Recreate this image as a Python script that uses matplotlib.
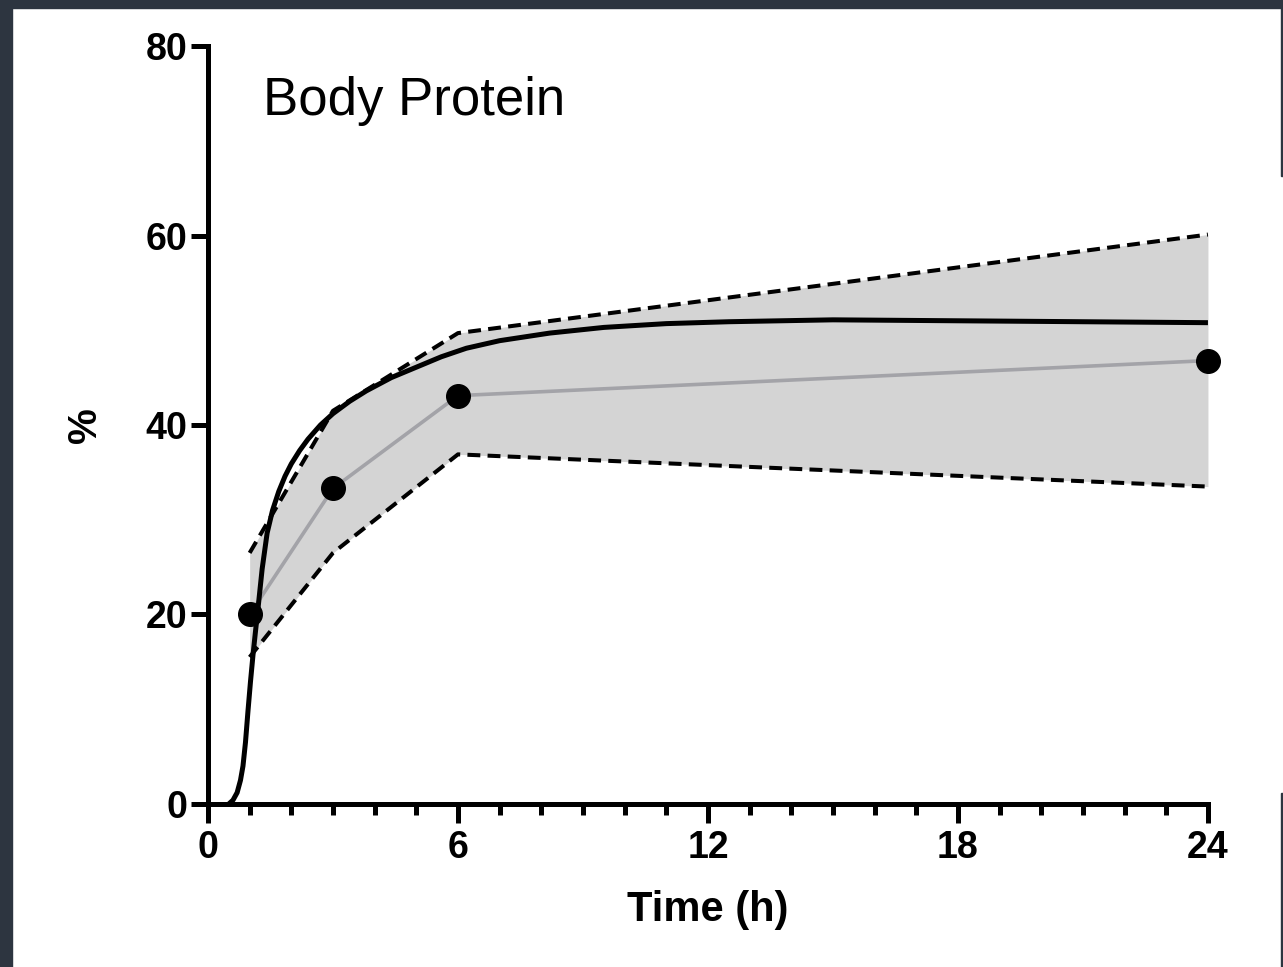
import matplotlib
matplotlib.use("Agg")
from matplotlib import pyplot as plt
from matplotlib.patches import Rectangle

# observed means and band
obs_time = [1, 3, 6, 24]
obs_mean = [20.0, 33.3, 43.1, 46.8]
band_upper = [26.5, 41.5, 49.7, 60.1]
band_lower = [15.5, 26.5, 36.9, 33.5]

# model curve
fit_time = [0.5, 0.6, 0.7, 0.78, 0.84, 0.9, 0.96, 1.02, 1.08, 1.14, 1.2,
            1.3, 1.42, 1.55, 1.7, 1.85, 2.0, 2.2, 2.4, 2.7, 3.0, 3.4, 3.8,
            4.4, 5.0, 5.6, 6.2, 7.0, 8.2, 9.5, 11.0, 12.5, 15.0, 18.0,
            21.0, 24.0]
fit_value = [0.0, 0.4, 1.2, 2.5, 4.0, 6.5, 9.8, 12.9, 15.7, 18.2, 20.6,
             24.8, 28.6, 31.0, 33.0, 34.6, 35.9, 37.3, 38.5, 40.0, 41.2,
             42.5, 43.6, 45.0, 46.1, 47.2, 48.1, 48.9, 49.7, 50.3, 50.7,
             50.9, 51.1, 51.0, 50.9, 50.8]

x_ticks = [0, 6, 12, 18, 24]
y_ticks = [0, 20, 40, 60, 80]

plt.rcParams["font.family"] = ["Liberation Sans", "DejaVu Sans"]

fig = plt.figure(figsize=(12.83, 9.67), dpi=100)
ax = fig.add_axes([0.1621, 0.1686, 0.7794, 0.7838])

ax.fill_between(obs_time, band_lower, band_upper, color="#d4d4d4", lw=0, zorder=1)
ax.plot(obs_time, band_upper, color="black", lw=2.9, ls=(0, (3.2, 1.8)), zorder=2)
ax.plot(obs_time, band_lower, color="black", lw=2.9, ls=(0, (3.2, 1.8)), zorder=2)
ax.plot(obs_time, obs_mean, color="#a3a3a8", lw=2.6, zorder=3)
ax.plot(fit_time, fit_value, color="black", lw=3.6, zorder=4, clip_on=False,
        solid_capstyle="butt", solid_joinstyle="round")
ax.plot(obs_time, obs_mean, "o", color="black", ms=17, zorder=5, clip_on=False)

ax.set_xlim(0, 24)
ax.set_ylim(0, 80)
ax.set_xticks(x_ticks)
ax.set_yticks(y_ticks)
ax.set_xticks(range(0, 25), minor=True)

for side in ["top", "right"]:
    ax.spines[side].set_visible(False)
for side in ["left", "bottom"]:
    ax.spines[side].set_linewidth(3.6)
    ax.spines[side].set_capstyle("projecting")

ax.tick_params(axis="x", which="major", length=14, width=3.6, pad=5)
ax.tick_params(axis="x", which="minor", length=8, width=3.6)
ax.tick_params(axis="y", which="major", length=12, width=3.6, pad=3)
for lab in ax.get_xticklabels() + ax.get_yticklabels():
    lab.set_fontsize(27)
    lab.set_fontweight("bold")

ax.set_xlabel("Time (h)", fontsize=30, fontweight="bold", labelpad=17)
ax.set_ylabel("%", fontsize=29, fontweight="bold", labelpad=30)
ax.text(0.055, 0.909, "Body Protein", transform=ax.transAxes, fontsize=38,
        va="baseline", ha="left")

# dark frame around the screenshot
dark = "#2d3540"
fig.patches.append(Rectangle((0, 0), 12 / 1283, 1, transform=fig.transFigure,
                             color=dark, zorder=10))
fig.patches.append(Rectangle((0, 1 - 8 / 967), 1, 8 / 967, transform=fig.transFigure,
                             color=dark, zorder=10))
fig.patches.append(Rectangle((1 - 2 / 1283, 1 - 176 / 967), 2 / 1283, 168 / 967,
                             transform=fig.transFigure, color=dark, zorder=10))
fig.patches.append(Rectangle((1 - 2 / 1283, 0), 2 / 1283, 174 / 967,
                             transform=fig.transFigure, color=dark, zorder=10))

plt.savefig("out.png", dpi=100)
